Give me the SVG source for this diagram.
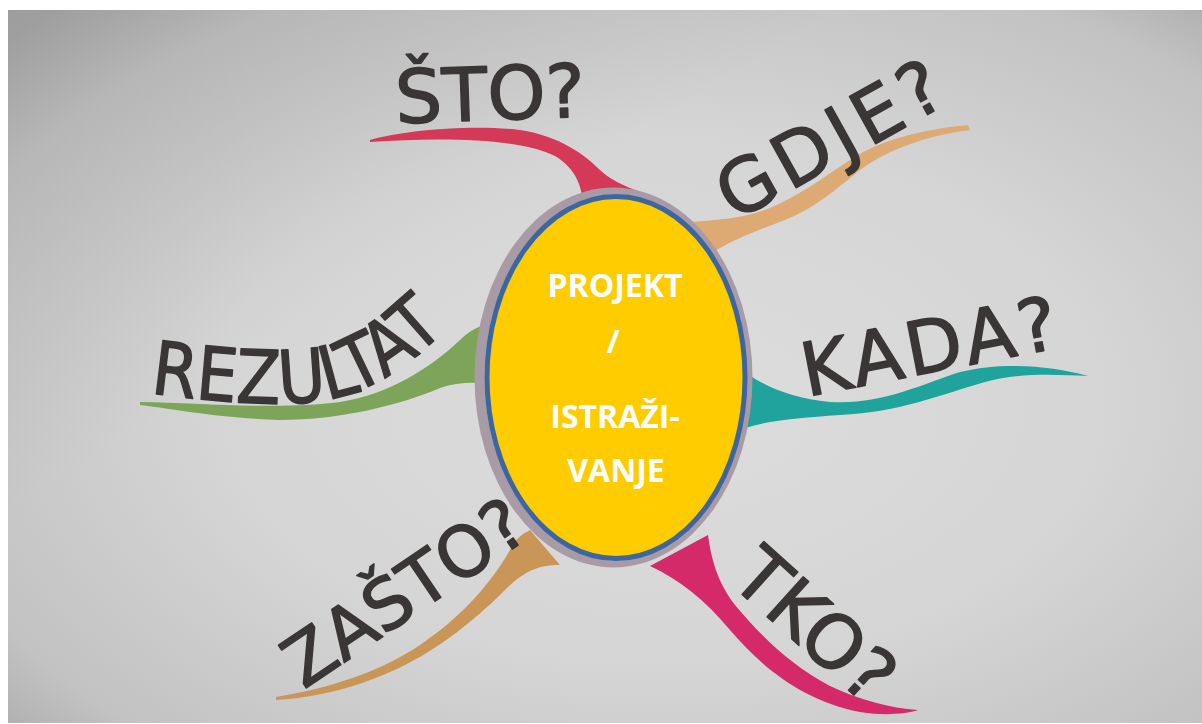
<svg xmlns="http://www.w3.org/2000/svg" width="1202" height="724" viewBox="0 0 1202 724">
<defs>
<radialGradient id="bg" cx="0.55" cy="0.55" r="0.75">
<stop offset="0" stop-color="#dddddd"/>
<stop offset="0.5" stop-color="#d5d5d5"/>
<stop offset="0.85" stop-color="#c2c2c2"/>
<stop offset="1" stop-color="#a8a8a8"/>
</radialGradient>
<linearGradient id="vig" x1="0" y1="0" x2="1" y2="1">
<stop offset="0" stop-color="#808080" stop-opacity="0.25"/>
<stop offset="0.35" stop-color="#808080" stop-opacity="0"/>
</linearGradient>
<path id="rezPath" d="M150,393 C 230,404 300,408 340,397 C 385,385 425,352 470,306"/>
<style>
.word{font-family:"DejaVu Sans","Liberation Sans",sans-serif;font-size:74px;fill:#3a3636;stroke:#3a3636;stroke-width:1.5;stroke-linejoin:round;text-anchor:middle}
.centre{font-family:"Open Sans","Liberation Sans",sans-serif;font-size:32px;font-weight:700;fill:#ffffff;text-anchor:middle}
</style>
</defs>
<rect x="0" y="0" width="1202" height="724" fill="#ffffff"/>
<rect x="8" y="10" width="1194" height="713" fill="url(#bg)"/>
<rect x="8" y="10" width="1194" height="713" fill="url(#vig)"/>
<g id="connectors">
<path d="M370,140 C 400,131 470,124 520,130 C 560,136 585,155 600,170 C 610,180 625,186 640,192 L 583,205 C 582,185 575,168 555,156 C 520,138 440,137 370,142 Z" fill="#d43a58"/>
<path d="M968,125 C 920,130 880,140 850,160 C 820,180 800,195 770,208 C 745,218 720,220 690,222 L 700,262 C 720,245 745,235 785,220 C 815,208 835,190 860,170 C 890,148 930,135 970,130 Z" fill="#dcaa72"/>
<path d="M740,368 C 760,385 790,398 830,402 C 880,405 920,385 960,372 C 1000,362 1050,365 1088,376 C 1060,375 1020,372 985,382 C 940,395 900,412 840,415 C 800,418 770,420 745,428 Z" fill="#21a39d"/>
<path d="M140,402 C 200,403 280,410 340,402 C 390,394 430,368 460,340 C 470,330 480,325 495,322 L 495,385 C 480,382 460,381 440,388 C 400,405 340,420 280,420 C 220,418 180,410 140,405 Z" fill="#7ca559"/>
<path d="M276,697 C 330,688 380,672 420,645 C 460,618 490,585 510,550 C 515,540 520,535 530,530 L 560,565 C 540,565 525,570 505,590 C 470,625 430,655 390,672 C 350,690 310,698 276,700 Z" fill="#c99658"/>
<path d="M650,566 C 680,580 705,600 730,630 C 760,665 800,700 860,712 C 885,716 905,714 918,710 C 890,708 860,700 830,686 C 790,665 760,635 735,605 C 720,585 712,565 708,535 Z" fill="#d42a6a"/>
</g>
<g id="centre">
<ellipse cx="613.5" cy="377.5" rx="139" ry="190" fill="#a99ba5"/>
<ellipse cx="615.5" cy="377.5" rx="131" ry="183" fill="#d9c98a"/>
<ellipse cx="616" cy="377.5" rx="129" ry="181" fill="#ffcc00" stroke="#3c66a2" stroke-width="5"/>
<text class="centre" x="615" y="297">PROJEKT</text>
<text class="centre" x="613" y="353">/</text>
<text class="centre" x="615" y="428">ISTRAŽI-</text>
<text class="centre" x="616" y="482">VANJE</text>
</g>
<g id="sto">
<text class="word" transform="translate(490,94) rotate(-2)" y="26">ŠTO?</text>
</g>
<g id="gdje">
<text class="word" transform="translate(832,138) rotate(-29)" y="26" letter-spacing="6">GDJE?</text>
</g>
<g id="kada">
<text class="word" transform="translate(931,346) rotate(-11)" y="26" letter-spacing="4">KADA?</text>
</g>
<g id="rezultat">
<text class="word" style="text-anchor:start"><textPath href="#rezPath" textLength="318" lengthAdjust="spacingAndGlyphs">REZULTAT</textPath></text>
</g>
<g id="zasto">
<text class="word" transform="translate(404,592) rotate(-34)" y="25" style="font-size:70px">ZAŠTO?</text>
</g>
<g id="tko">
<text class="word" transform="translate(815,625) rotate(42)" y="26">TKO?</text>
</g>
</svg>
